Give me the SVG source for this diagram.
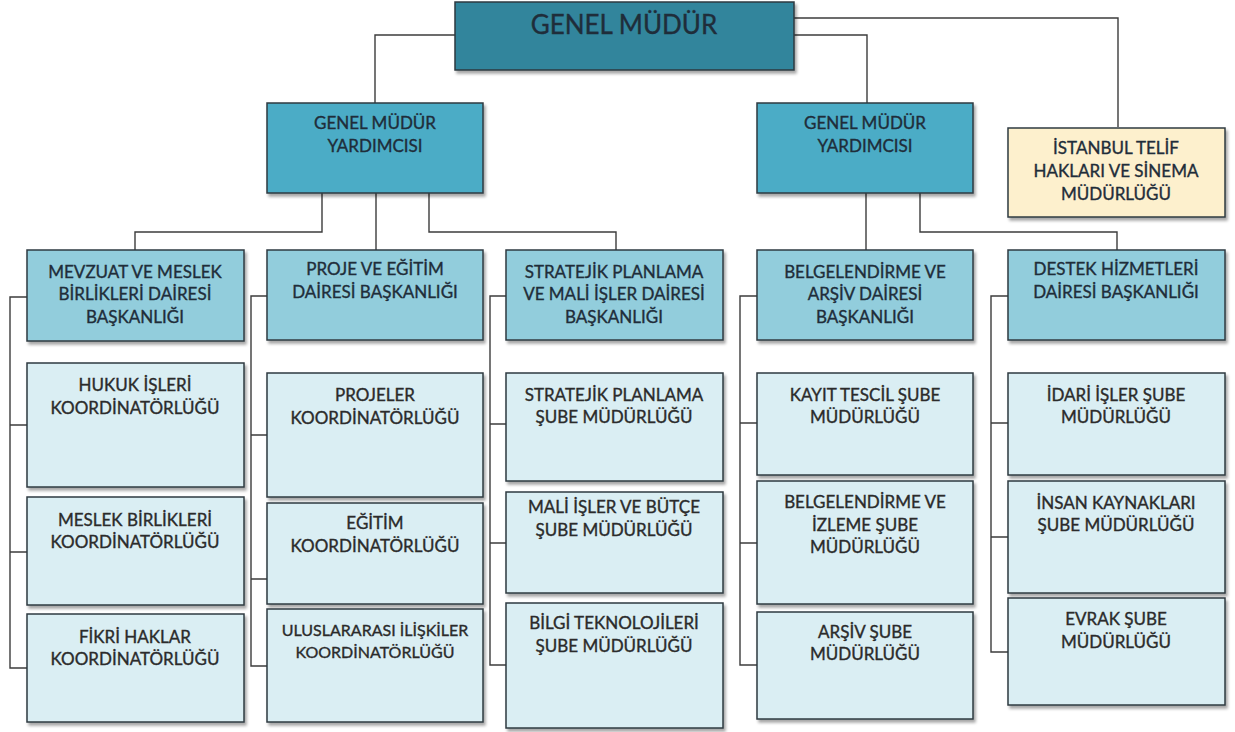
<svg xmlns="http://www.w3.org/2000/svg" width="1235" height="732" viewBox="0 0 1235 732">
<defs>
<filter id="sh" x="-5%" y="-5%" width="115%" height="120%">
<feDropShadow dx="2" dy="3" stdDeviation="1.5" flood-color="#000" flood-opacity="0.35"/>
</filter>
<style>
.b{stroke:#2f3a40;stroke-width:1.5;filter:url(#sh)}
.gm{fill:#31859c}
.l2{fill:#4bacc6}
.l3{fill:#92cddc}
.l4{fill:#daeef3}
.ye{fill:#fdf0cd}
text{font-family:Lato,"Open Sans","Liberation Sans",sans-serif;font-size:17px;text-anchor:middle;fill:#1f2d3a;stroke:#1f2d3a;stroke-width:0.35}
.t4{fill:#2b2b2b;stroke:#2b2b2b}
.c{fill:none;stroke:#3c3c3c;stroke-width:1.4}
</style>
</defs>
<rect width="1235" height="732" fill="#fff"/>
<g id="connectors">
<path class="c" d="M455 35 H375 V103"/>
<path class="c" d="M794 18 H1118 V127"/>
<path class="c" d="M794 35 H867 V103"/>
<path class="c" d="M322 193 V232 H135 V250"/>
<path class="c" d="M376 193 V250"/>
<path class="c" d="M429 193 V232 H616 V250"/>
<path class="c" d="M866 193 V250"/>
<path class="c" d="M920 193 V232 H1117 V250"/>
<path class="c" d="M27 297 H10 V668 H27 M10 425 H27 M10 552 H27"/>
<path class="c" d="M267 296 H251 V666 H267 M251 435 H267 M251 579 H267"/>
<path class="c" d="M506 296 H490 V665 H506 M490 424 H506 M490 543 H506"/>
<path class="c" d="M757 296 H740 V665 H757 M740 423 H757 M740 543 H757"/>
<path class="c" d="M1008 296 H991 V652 H1008 M991 423 H1008 M991 537 H1008"/>
</g>
<g id="genel-mudur"><rect class="b gm" x="455" y="2" width="339" height="68"/><text x="624" y="34" style="font-size:26px">GENEL MÜDÜR</text></g>
<g id="gmy1"><rect class="b l2" x="267" y="103" width="216" height="90"/><text x="375" y="129">GENEL MÜDÜR</text><text x="375" y="152">YARDIMCISI</text></g>
<g id="gmy2"><rect class="b l2" x="757" y="103" width="216" height="90"/><text x="865" y="129">GENEL MÜDÜR</text><text x="865" y="152">YARDIMCISI</text></g>
<g id="istanbul"><rect class="b ye" x="1008" y="128" width="217" height="89"/><text x="1116" y="154">İSTANBUL TELİF</text><text x="1116" y="177">HAKLARI VE SİNEMA</text><text x="1116" y="200">MÜDÜRLÜĞÜ</text></g>
<g id="mevzuat"><rect class="b l3" x="27" y="250" width="217" height="91"/><text x="135" y="278">MEVZUAT VE MESLEK</text><text x="135" y="300">BİRLİKLERİ DAİRESİ</text><text x="135" y="323">BAŞKANLIĞI</text></g>
<g id="proje"><rect class="b l3" x="267" y="250" width="216" height="90"/><text x="375" y="275">PROJE VE EĞİTİM</text><text x="375" y="298">DAİRESİ BAŞKANLIĞI</text></g>
<g id="stratejik"><rect class="b l3" x="506" y="250" width="217" height="90"/><text x="614" y="278">STRATEJİK PLANLAMA</text><text x="614" y="300">VE MALİ İŞLER DAİRESİ</text><text x="614" y="323">BAŞKANLIĞI</text></g>
<g id="belgelendirme"><rect class="b l3" x="757" y="250" width="216" height="90"/><text x="865" y="278">BELGELENDİRME VE</text><text x="865" y="300">ARŞİV DAİRESİ</text><text x="865" y="323">BAŞKANLIĞI</text></g>
<g id="destek"><rect class="b l3" x="1008" y="250" width="217" height="90"/><text x="1116" y="275">DESTEK HİZMETLERİ</text><text x="1116" y="298">DAİRESİ BAŞKANLIĞI</text></g>
<g id="hukuk"><rect class="b l4" x="27" y="363" width="217" height="124"/><text class="t4" x="135" y="391">HUKUK İŞLERİ</text><text class="t4" x="135" y="414">KOORDİNATÖRLÜĞÜ</text></g>
<g id="meslek"><rect class="b l4" x="27" y="497" width="217" height="108"/><text class="t4" x="135" y="526">MESLEK BİRLİKLERİ</text><text class="t4" x="135" y="548">KOORDİNATÖRLÜĞÜ</text></g>
<g id="fikri"><rect class="b l4" x="27" y="614" width="217" height="108"/><text class="t4" x="135" y="643">FİKRİ HAKLAR</text><text class="t4" x="135" y="665">KOORDİNATÖRLÜĞÜ</text></g>
<g id="projeler"><rect class="b l4" x="267" y="373" width="216" height="124"/><text class="t4" x="375" y="401">PROJELER</text><text class="t4" x="375" y="424">KOORDİNATÖRLÜĞÜ</text></g>
<g id="egitim"><rect class="b l4" x="267" y="503" width="216" height="101"/><text class="t4" x="375" y="529">EĞİTİM</text><text class="t4" x="375" y="552">KOORDİNATÖRLÜĞÜ</text></g>
<g id="uluslararasi"><rect class="b l4" x="267" y="609" width="216" height="113"/><text class="t4" x="375" y="636" style="font-size:16px">ULUSLARARASI İLİŞKİLER</text><text class="t4" x="375" y="658" style="font-size:16px">KOORDİNATÖRLÜĞÜ</text></g>
<g id="strateji-sube"><rect class="b l4" x="506" y="373" width="217" height="108"/><text class="t4" x="614" y="401">STRATEJİK PLANLAMA</text><text class="t4" x="614" y="423">ŞUBE MÜDÜRLÜĞÜ</text></g>
<g id="mali"><rect class="b l4" x="506" y="492" width="217" height="101"/><text class="t4" x="614" y="513">MALİ İŞLER VE BÜTÇE</text><text class="t4" x="614" y="536">ŞUBE MÜDÜRLÜĞÜ</text></g>
<g id="bilgi"><rect class="b l4" x="506" y="603" width="217" height="125"/><text class="t4" x="614" y="629">BİLGİ TEKNOLOJİLERİ</text><text class="t4" x="614" y="652">ŞUBE MÜDÜRLÜĞÜ</text></g>
<g id="kayit"><rect class="b l4" x="757" y="373" width="216" height="102"/><text class="t4" x="865" y="401">KAYIT TESCİL ŞUBE</text><text class="t4" x="865" y="423">MÜDÜRLÜĞÜ</text></g>
<g id="belge-izleme"><rect class="b l4" x="757" y="481" width="216" height="123"/><text class="t4" x="865" y="508">BELGELENDİRME VE</text><text class="t4" x="865" y="531">İZLEME ŞUBE</text><text class="t4" x="865" y="553">MÜDÜRLÜĞÜ</text></g>
<g id="arsiv"><rect class="b l4" x="757" y="612" width="216" height="107"/><text class="t4" x="865" y="638">ARŞİV ŞUBE</text><text class="t4" x="865" y="660">MÜDÜRLÜĞÜ</text></g>
<g id="idari"><rect class="b l4" x="1008" y="373" width="217" height="102"/><text class="t4" x="1116" y="401">İDARİ İŞLER ŞUBE</text><text class="t4" x="1116" y="423">MÜDÜRLÜĞÜ</text></g>
<g id="insan"><rect class="b l4" x="1008" y="481" width="217" height="112"/><text class="t4" x="1116" y="509">İNSAN KAYNAKLARI</text><text class="t4" x="1116" y="531">ŞUBE MÜDÜRLÜĞÜ</text></g>
<g id="evrak"><rect class="b l4" x="1008" y="598" width="217" height="107"/><text class="t4" x="1116" y="625">EVRAK ŞUBE</text><text class="t4" x="1116" y="648">MÜDÜRLÜĞÜ</text></g>
</svg>
